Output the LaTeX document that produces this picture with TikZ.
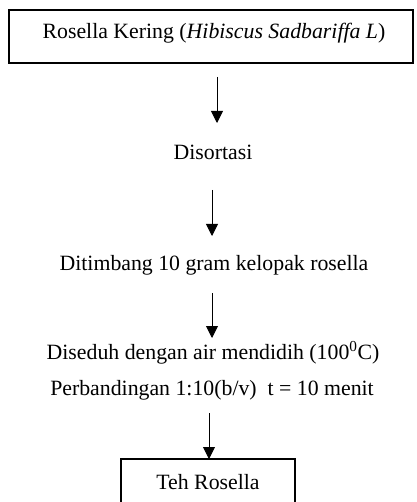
\documentclass[tikz,border=0pt]{standalone}
\usepackage{fontspec}
\setmainfont{Liberation Serif}
\usetikzlibrary{arrows.meta}
\begin{document}
\begin{tikzpicture}[x=1pt,y=-1pt,
  txt/.style={font=\fontsize{21.8}{26}\selectfont, inner sep=0pt, anchor=center},
  flow/.style={line width=0.9pt, -{Triangle[length=12pt,width=12pt]}},
  boxed/.style={draw, line width=1.8pt}]
\useasboundingbox (0,0) rectangle (416,502);
\clip (0,0) rectangle (416,502);
\node[boxed, minimum width=404pt, minimum height=53pt, inner sep=0pt] (top) at (211,36.5) {};
\node[txt] (toptxt) at (214,33) {Rosella Kering (\textit{Hibiscus Sadbariffa L})};
\coordinate (a1s) at (217,77);
\coordinate (a1e) at (217,123);
\node[txt] (dis) at (213,152) {Disortasi};
\coordinate (a2s) at (212,190);
\coordinate (a2e) at (212,236);
\node[txt] (dit) at (214,265) {Ditimbang 10 gram kelopak rosella};
\coordinate (a3s) at (212,293);
\coordinate (a3e) at (212,338);
\node[txt] (dis2) at (213,353) {Diseduh dengan air mendidih (100\textsuperscript{0}C)};
\node[txt] (per) at (212,390) {Perbandingan 1:10(b/v)\ \ t = 10 menit};
\coordinate (a4s) at (209,413);
\coordinate (a4e) at (209,459);
\draw[boxed] (121,459) rectangle (295,515);
\node[txt] (teh) at (208,482) {Teh Rosella};
\draw[flow] (a1s) -- (a1e);
\draw[flow] (a2s) -- (a2e);
\draw[flow] (a3s) -- (a3e);
\draw[flow] (a4s) -- (a4e);
\end{tikzpicture}
\end{document}
